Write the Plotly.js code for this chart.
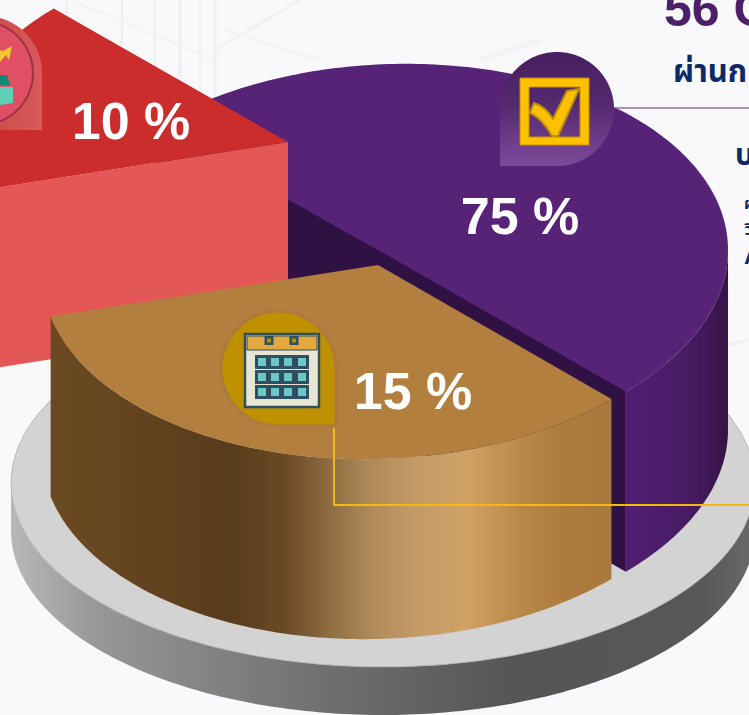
<!DOCTYPE html>
<html>
<head>
<meta charset="utf-8">
<script src="https://cdn.plot.ly/plotly-3.0.1.min.js"></script>
<style>html,body{margin:0;padding:0;background:#f9f9fb;overflow:hidden}</style>
</head>
<body>
<div id="chart" style="width:749px;height:715px"></div>
<script>
// ---- chart values as printed in the picture ----
const sliceNames  = ['ผ่าน', 'ระหว่าง', 'อื่น ๆ'];
const sliceValues = [75, 15, 10];
const sliceLabelX = [520, 413, 131];
const sliceLabelY = [221, 396, 126];

// ---- slice sweep on the drawn ellipse, in degrees ----
const sliceStart = [225.5, 46, 167];
const sliceEnd   = [405.9, 167, 225.8];
const sliceCx = [392, 378, 288];
const sliceCy = [258, 265, 142];

const W = 749, H = 715;
const A = 336, B = 194, TILT = -0.024, DEPTH = 180;
const RAD = Math.PI / 180;

function rim(cx, cy, t0, t1, a, b, k, dy) {
  const xs = [], ys = [];
  const n = Math.max(2, Math.ceil(Math.abs(t1 - t0)));
  for (let i = 0; i <= n; i++) {
    const t = (t0 + (t1 - t0) * i / n) * RAD;
    const x = cx + a * Math.cos(t);
    xs.push(x);
    ys.push(cy + b * Math.sin(t) + k * (x - cx) + (dy || 0));
  }
  return [xs, ys];
}
const sliceRim = (i, t0, t1, dy) => rim(sliceCx[i], sliceCy[i], t0, t1, A, B, TILT, dy);

function poly(xs, ys, color, extra) {
  return Object.assign({
    type: 'scatter', x: xs, y: ys, mode: 'none', fill: 'toself',
    fillcolor: color, hoverinfo: 'skip', showlegend: false
  }, extra || {});
}
const hGrad = (stops) => ({ fillgradient: { type: 'horizontal', colorscale: stops } });
const vGrad = (stops) => ({ fillgradient: { type: 'vertical', colorscale: stops } });

function topFace(i, color, extra) {
  const [x, y] = sliceRim(i, sliceStart[i], sliceEnd[i]);
  return poly([sliceCx[i], ...x, sliceCx[i]], [sliceCy[i], ...y, sliceCy[i]], color, extra);
}
function sideFace(i, t0, t1, color, extra) {
  const [x1, y1] = sliceRim(i, t0, t1);
  const [x2, y2] = sliceRim(i, t1, t0, DEPTH);
  return poly([...x1, ...x2, x1[0]], [...y1, ...y2, y1[0]], color, extra);
}
function teardrop(cx, cy, r, corner) {
  const [xs, ys] = corner === 'bl'
    ? rim(cx, cy, 180, 450, r, r, 0)
    : rim(cx, cy, 0, -270, r, r, 0);
  xs.push(corner === 'bl' ? cx - r : cx + r); ys.push(cy + r);
  xs.push(xs[0]); ys.push(ys[0]);
  return [xs, ys];
}

const traces = [];

// base plate
const pCx = 383, pCy = 483, pA = 372, pB = 184, pD = 48;
{
  const [x1, y1] = rim(pCx, pCy, 180, 0, pA, pB, 0);
  const [x2, y2] = rim(pCx, pCy, 0, 180, pA, pB, 0, pD);
  traces.push(poly([...x1, ...x2, x1[0]], [...y1, ...y2, y1[0]], '#777', hGrad([
    [0, '#b8b8b8'], [0.12, '#969696'], [0.4, '#727272'], [0.68, '#555555'], [0.93, '#585858'], [1, '#6a6a6a']
  ])));
  const [xt, yt] = rim(pCx, pCy, 0, 360, pA, pB, 0);
  traces.push(poly(xt, yt, '#d3d3d3', { mode: 'lines', line: { color: '#a6a6a6', width: 0.7 } }));
}

// purple slice
traces.push(sideFace(0, 0, 45.9, '#47195f', hGrad([[0, '#521f72'], [0.6, '#481b64'], [1, '#371348']])));
{
  const [xa, ya] = sliceRim(0, 225.5, 225.5);
  const [xb, yb] = sliceRim(0, 45.9, 45.9);
  const cx = sliceCx[0], cy = sliceCy[0];
  traces.push(poly([xa[0], cx, xb[0], xb[0], xa[0], xa[0]],
                   [ya[0] - 2, cy - 2, yb[0] - 2, yb[0] + DEPTH, ya[0] + DEPTH, ya[0] - 2], '#2f1243'));
}
traces.push(topFace(0, '#562376'));

// red slice
{
  const [xr, yr] = sliceRim(2, 167, 167);
  const cx = sliceCx[2], cy = sliceCy[2];
  traces.push(poly([xr[0], cx, cx, xr[0], xr[0]],
                   [yr[0], cy, cy + DEPTH, yr[0] + DEPTH, yr[0]], '#e35757'));
}
traces.push(topFace(2, '#cb2c2c'));

// brown slice
traces.push(sideFace(1, 46, 167, '#a0753d', hGrad([
  [0, '#6b4a22'], [0.13, '#654520'], [0.32, '#593c1c'], [0.42, '#6b4a26'], [0.5, '#8f6e42'],
  [0.57, '#ae8a58'], [0.66, '#c59c68'], [0.74, '#d0a264'], [0.84, '#b98848'], [0.92, '#ac7b3c'], [1, '#a97a3e']
])));
traces.push(topFace(1, '#b37f3e'));

// leader lines
traces.push({ type: 'scatter', x: [615, 749], y: [108, 108], mode: 'lines',
  line: { color: '#8b6ea3', width: 1.5 }, hoverinfo: 'skip', showlegend: false });
traces.push({ type: 'scatter', x: [334, 334, 749], y: [425, 505, 505], mode: 'lines',
  line: { color: '#f6b80c', width: 2 }, hoverinfo: 'skip', showlegend: false });

// badges
{
  let [x, y] = teardrop(-15, 73, 57, 'br');
  traces.push(poly(x, y, '#cf4a4c', hGrad([[0, '#c23a3c'], [1, '#d85a5a']])));
  [x, y] = rim(-19, 73, 0, 360, 52, 52, 0);
  traces.push(poly(x, y, '#e04f63', { mode: 'lines', line: { color: '#9c3344', width: 2 } }));
  [x, y] = teardrop(557, 109, 57, 'bl');
  traces.push(poly(x, y, '#5f3079', vGrad([[0, '#7e4a9a'], [0.55, '#55286f'], [1, '#481f60']])));
  [x, y] = teardrop(278.5, 368.5, 59, 'br');
  traces.push(poly(x, y, '#ab7a3c'));
  [x, y] = teardrop(278.5, 368.5, 56, 'br');
  traces.push(poly(x, y, '#bf9000'));
}

// percentage labels
traces.push({
  type: 'scatter', mode: 'text', x: sliceLabelX, y: sliceLabelY,
  text: sliceValues.map(v => v + ' %'), textposition: 'middle center',
  textfont: { family: 'Liberation Sans, Arial, sans-serif', size: 52, color: '#ffffff', weight: 700 },
  hoverinfo: 'skip', showlegend: false, customdata: sliceNames, cliponaxis: false
});

// decorative icons and faint background
const shapes = [];
const rect = (x0, y0, x1, y1, fill, line, w, layer) => shapes.push({
  type: 'rect', x0, y0, x1, y1, xref: 'x', yref: 'y', layer: layer || 'above',
  fillcolor: fill, line: { color: line || fill, width: w === undefined ? 0 : w }
});
const path = (d, fill, line, w) => shapes.push({
  type: 'path', path: d, xref: 'x', yref: 'y', layer: 'above',
  fillcolor: fill, line: { color: line || fill, width: w || 0 }
});
const bgLine = (x0, y0, x1, y1, c, w) => shapes.push({
  type: 'line', x0, y0, x1, y1, xref: 'x', yref: 'y', layer: 'below', line: { color: c, width: w }
});
[[67, 2], [122, 2], [155, 2], [180, 3], [200, 2], [215, 3]].forEach(([x, w]) => bgLine(x, 0, x, 110, '#edeff3', w));
bgLine(70, 0, 215, 60, '#f0f1f5', 1.5);
bgLine(215, 50, 300, 0, '#f0f1f5', 3);
bgLine(225, 30, 320, 60, '#f2f3f6', 3);
bgLine(0, 660, 100, 660, '#f2f3f6', 1);
bgLine(600, 590, 749, 590, '#f1f2f5', 1);
bgLine(720, 680, 720, 715, '#f1f2f5', 1);
bgLine(540, 40, 480, 60, '#f2f3f6', 6);
bgLine(620, 370, 749, 340, '#f0f1f5', 3);

// checkbox icon
path('M520,78 H589 V145 H520 Z M529,87 V137 H580 V87 Z', '#ffc000', '#c09000', 1);
path('M579,89 L567,91 L553,119 Q545,106 534,103 L530,113 Q542,118 552,136 L558,136 Z', '#ffc000', '#c09000', 2);

// calendar icon
rect(245, 334, 319, 407, '#e8e5d3', '#2f5060', 2.5);
rect(247, 336, 317, 350, '#e3a93f', '#2f5060', 1);
[269, 294].forEach(x => { rect(x - 4.5, 336, x + 4.5, 345, '#2f5060'); rect(x - 2, 338.5, x + 2, 342.5, '#bf9000'); });
[362, 377, 392].forEach(y => [262, 275, 288, 302].forEach(x => {
  rect(x - 7, y - 7, x + 7, y + 7, '#2f5060');
  rect(x - 4, y - 4, x + 4, y + 4, '#6cc7c9');
}));

// chart icon in red badge
path('M12,46 L9,60 L6,55 L0,62 V50 L3,51 Z', '#f7c531');
path('M0,75 H7 L10,85 H0 Z', '#0f8a78');
path('M0,87 L13,87 V103 L0,105 Z', '#5fcfb5');

const annotations = [
  { text: '<b>56 C</b>', x: 662, y: 9, size: 50, color: '#4a2068', family: 'Liberation Sans, Arial, sans-serif' },
  { text: '<b>ผ่านก</b>', x: 671, y: 70, size: 31, color: '#0b2a66' },
  { text: '<b>บ</b>', x: 733, y: 153, size: 30, color: '#0b2a66' },
  { text: '<b>ผ</b>', x: 742, y: 203, size: 16, color: '#0b2a66' },
  { text: '<b>วิ</b>', x: 742, y: 229, size: 16, color: '#0b2a66' },
  { text: '<b>A</b>', x: 742, y: 255, size: 24, color: '#0b2a66', family: 'Liberation Sans, Arial, sans-serif' }
].map(a => ({
  text: a.text, x: a.x, y: a.y, xref: 'x', yref: 'y', xanchor: 'left', yanchor: 'middle',
  showarrow: false, align: 'left',
  font: { family: a.family || 'Noto Sans, Noto Sans Thai, DejaVu Sans, sans-serif', size: a.size, color: a.color }
}));

Plotly.newPlot('chart', traces, {
  width: W, height: H, autosize: false,
  margin: { l: 0, r: 0, t: 0, b: 0, pad: 0 },
  paper_bgcolor: '#f9f9fb', plot_bgcolor: '#f9f9fb',
  showlegend: false, hovermode: false,
  xaxis: { range: [0, W], visible: false, fixedrange: true },
  yaxis: { range: [H, 0], visible: false, fixedrange: true },
  shapes, annotations
}, { displayModeBar: false, staticPlot: true });
</script>
</body>
</html>
